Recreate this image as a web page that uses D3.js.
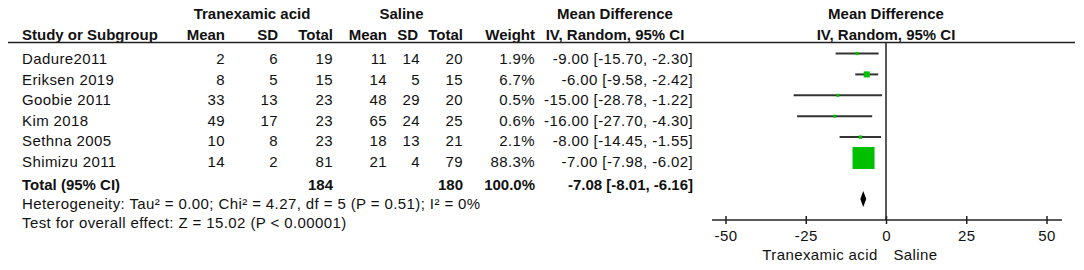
<!DOCTYPE html>
<html>
  <head>
    <meta charset="utf-8">
    <title>Forest plot</title>
    <style>
      body { margin: 0; background: #fff; }
      svg { display: block; font-family: Arial, 'Liberation Sans', sans-serif; }
      .t { font-size: 15px; fill: #111; letter-spacing: 0.4px; }
      .b { font-weight: bold; letter-spacing: 0; }
    </style>
  </head>
  <body>
    <svg id="chart" width="1084" height="270"></svg>
    <script src="https://d3js.org/d3.v7.min.js"></script>
    <script>
      // study data
      studies = ['Dadure2011', 'Eriksen 2019', 'Goobie 2011', 'Kim 2018', 'Sethna 2005', 'Shimizu 2011']
      trxMean = [2, 8, 33, 49, 10, 14]
      trxSD = [6, 5, 13, 17, 8, 2]
      trxTotal = [19, 15, 23, 23, 23, 81]
      salMean = [11, 14, 48, 65, 18, 21]
      salSD = [14, 5, 29, 24, 13, 4]
      salTotal = [20, 15, 20, 25, 21, 79]
      weights = [1.9, 6.7, 0.5, 0.6, 2.1, 88.3]
      md = [-9.00, -6.00, -15.00, -16.00, -8.00, -7.00]
      ciLow = [-15.70, -9.58, -28.78, -27.70, -14.45, -7.98]
      ciHigh = [-2.30, -2.42, -1.22, -4.30, -1.55, -6.02]

      // pooled result
      pooled = { trxN: 184, salN: 180, weight: 100.0, md: -7.08, low: -8.01, high: -6.16 }
      heterogeneity = 'Heterogeneity: Tau² = 0.00; Chi² = 4.27, df = 5 (P = 0.51); I² = 0%'
      overallTest = 'Test for overall effect: Z = 15.02 (P < 0.00001)'

      axisTicks = [-50, -25, 0, 25, 50]
      favours = ['Tranexamic acid', 'Saline']

      const svg = d3.select('#chart')
      // plain hyphen for negatives, as in the source figure
      const f2 = v => v.toFixed(2)
      const ciText = (m, l, h) => `${f2(m)} [${f2(l)}, ${f2(h)}]`

      // rows of the table (text) and rows of the plot (marks)
      textY = d3.scalePoint().domain(studies).range([59, 161.5])
      plotY = d3.scalePoint().domain(studies).range([53.5, 158])

      xScale = d3.scaleLinear().domain([-50, 50]).range([725.5, 1046.5])

      // column right edges
      cols = { trxMean: 225, trxSD: 278, trxN: 333, salMean: 387, salSD: 420, salN: 463, weight: 535, md: 693 }

      function text(x, y, s, anchor, bold) {
        svg.append('text')
          .attr('class', bold ? 't b' : 't')
          .attr('x', x).attr('y', y)
          .attr('dy', '0.36em')
          .attr('text-anchor', anchor || 'start')
          .text(s)
      }

      // headers
      text(252, 14, 'Tranexamic acid', 'middle', true)
      text(401.5, 14, 'Saline', 'middle', true)
      text(615, 14, 'Mean Difference', 'middle', true)
      text(xScale(0), 14, 'Mean Difference', 'middle', true)
      text(22, 35, 'Study or Subgroup', 'start', true)
      text(cols.trxMean, 35, 'Mean', 'end', true)
      text(cols.trxSD, 35, 'SD', 'end', true)
      text(cols.trxN, 35, 'Total', 'end', true)
      text(cols.salMean, 35, 'Mean', 'end', true)
      text(418, 35, 'SD', 'end', true)
      text(cols.salN, 35, 'Total', 'end', true)
      text(cols.weight, 35, 'Weight', 'end', true)
      text(615, 35, 'IV, Random, 95% CI', 'middle', true)
      text(xScale(0), 35, 'IV, Random, 95% CI', 'middle', true)

      svg.append('line')
        .attr('x1', 8).attr('x2', 1075)
        .attr('y1', 42.5).attr('y2', 42.5)
        .attr('stroke', '#222').attr('stroke-width', 1.5)

      // study rows
      studies.forEach((s, i) => {
        const y = textY(s)
        text(22, y, s)
        text(cols.trxMean, y, trxMean[i], 'end')
        text(cols.trxSD, y, trxSD[i], 'end')
        text(cols.trxN, y, trxTotal[i], 'end')
        text(cols.salMean, y, salMean[i], 'end')
        text(cols.salSD, y, salSD[i], 'end')
        text(cols.salN, y, salTotal[i], 'end')
        text(cols.weight, y, weights[i].toFixed(1) + '%', 'end')
        text(cols.md, y, ciText(md[i], ciLow[i], ciHigh[i]), 'end')
      })

      // total rows
      text(22, 185, 'Total (95% CI)', 'start', true)
      text(cols.trxN, 185, pooled.trxN, 'end', true)
      text(cols.salN, 185, pooled.salN, 'end', true)
      text(cols.weight, 185, pooled.weight.toFixed(1) + '%', 'end', true)
      text(cols.md, 185, ciText(pooled.md, pooled.low, pooled.high), 'end', true)
      text(22, 203.5, heterogeneity)
      text(22, 222.5, overallTest)

      // forest plot
      const axisY = 220
      const plot = svg.append('g')

      plot.append('line')
        .attr('x1', xScale(0)).attr('x2', xScale(0))
        .attr('y1', 42.5).attr('y2', axisY)
        .attr('stroke', '#222').attr('stroke-width', 1.5)

      plot.selectAll('line.ci')
        .data(studies)
        .join('line')
          .attr('class', 'ci')
          .attr('x1', (d, i) => xScale(ciLow[i]))
          .attr('x2', (d, i) => xScale(ciHigh[i]))
          .attr('y1', d => plotY(d))
          .attr('y2', d => plotY(d))
          .attr('stroke', '#333').attr('stroke-width', 2)

      // box area follows the weight
      const boxSize = w => Math.max(3, 22 * Math.sqrt(w / d3.max(weights)))
      plot.selectAll('rect.box')
        .data(studies)
        .join('rect')
          .attr('class', 'box')
          .attr('x', (d, i) => xScale(md[i]) - boxSize(weights[i]) / 2)
          .attr('y', (d, i) => plotY(d) - boxSize(weights[i]) / 2)
          .attr('width', (d, i) => boxSize(weights[i]))
          .attr('height', (d, i) => boxSize(weights[i]))
          .attr('fill', '#00c000')

      const dy = 199
      plot.append('path')
        .attr('d', `M${xScale(pooled.low)},${dy} L${xScale(pooled.md)},${dy - 8} L${xScale(pooled.high)},${dy} L${xScale(pooled.md)},${dy + 8} Z`)
        .attr('fill', '#000')

      const axis = d3.axisBottom(xScale)
        .tickValues(axisTicks)
        .tickFormat(d => String(d))
        .tickSize(4)
        .tickPadding(6)

      const ag = plot.append('g')
        .attr('transform', `translate(0,${axisY})`)
        .call(axis)
      ag.select('.domain').remove()
      ag.selectAll('.tick line').attr('y1', -4).attr('stroke', '#222').attr('stroke-width', 1.5)
      ag.selectAll('.tick text')
        .attr('class', 't')
        .attr('font-family', null).attr('font-size', null)
        .attr('fill', '#222')
      ag.append('line')
        .attr('x1', xScale.range()[0] - 13.5).attr('x2', xScale.range()[1] + 15.5)
        .attr('stroke', '#222').attr('stroke-width', 1.5)

      text(820, 255, favours[0], 'middle')
      text(915.5, 255, favours[1], 'middle')
    </script>
  </body>
</html>
